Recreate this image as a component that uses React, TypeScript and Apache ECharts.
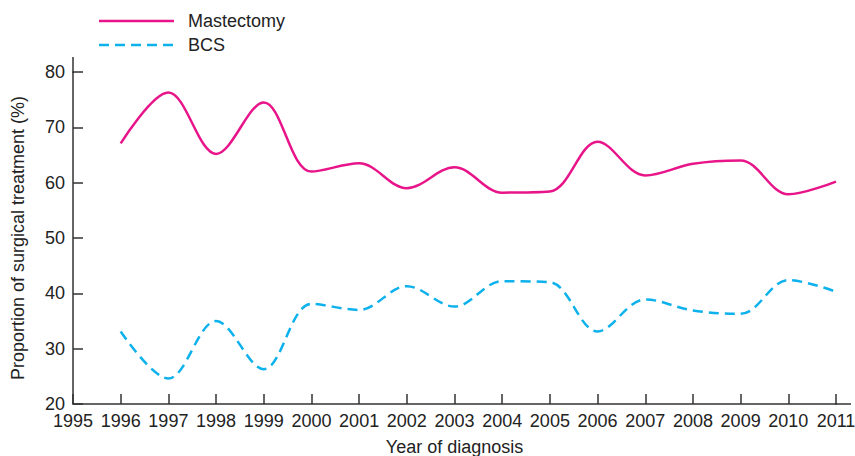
import React, { useEffect, useRef } from "react";
import * as echarts from "echarts";

const years = [1996, 1997, 1998, 1999, 2000, 2001, 2002, 2003, 2004, 2005, 2006, 2007, 2008, 2009, 2010, 2011];
const mastectomy = [67.1, 76.3, 65.2, 74.5, 62.0, 63.5, 59.0, 62.8, 58.2, 58.4, 67.4, 61.3, 63.4, 64.0, 57.9, 60.2];
const bcs = [33.1, 24.6, 35.0, 26.3, 38.1, 37.0, 41.3, 37.6, 42.2, 42.0, 33.1, 38.9, 36.9, 36.3, 42.4, 40.3];
const legendNames = ["Mastectomy", "BCS"];

const FONT = "'Liberation Sans', Arial, Helvetica, sans-serif";
const TXT = "#222";
const AX = "#333";
const PINK = "#E8158A";
const CYAN = "#0DB1EC";

export default function App() {
  const ref = useRef<HTMLDivElement>(null);
  useEffect(() => {
    if (!ref.current) return;
    const chart = echarts.init(ref.current, undefined, { renderer: "svg" });
    const axisCommon = {
      axisLine: { show: true, lineStyle: { color: AX, width: 1.5 } },
      axisTick: { show: true, inside: true, length: 10, lineStyle: { color: AX, width: 1.5 } },
      splitLine: { show: false },
      axisLabel: { color: TXT, fontSize: 18, fontFamily: FONT, formatter: (v: number) => String(v) },
      nameTextStyle: { color: TXT, fontSize: 18, fontFamily: FONT },
    };
    chart.setOption({
      animation: false,
      grid: { left: 73, right: 19, top: 72, bottom: 52, containLabel: false, outerBoundsMode: "none" },
      xAxis: {
        type: "value",
        min: 1995,
        max: 2011,
        interval: 1,
        name: "Year of diagnosis",
        nameLocation: "middle",
        nameGap: 34,
        ...axisCommon,
        axisLabel: { ...axisCommon.axisLabel, margin: 8, lineHeight: 18, showMinLabel: true, showMaxLabel: true },
      },
      yAxis: {
        type: "value",
        min: 20,
        max: 80,
        interval: 10,
        name: "Proportion of surgical treatment (%)",
        nameLocation: "middle",
        nameGap: 46,
        ...axisCommon,
        axisLabel: { ...axisCommon.axisLabel, margin: 8, lineHeight: 18 },
      },
      series: [
        {
          name: legendNames[0],
          type: "line",
          data: years.map((y, i) => [y, mastectomy[i]]),
          smooth: 0.35,
          symbol: "none",
          lineStyle: { color: PINK, width: 2.5 },
          itemStyle: { color: PINK },
        },
        {
          name: legendNames[1],
          type: "line",
          data: years.map((y, i) => [y, bcs[i]]),
          smooth: 0.35,
          symbol: "none",
          lineStyle: { color: CYAN, width: 2.5, type: [10, 6] },
          itemStyle: { color: CYAN },
        },
      ],
      graphic: [
        { type: "line", shape: { x1: 73, y1: 57, x2: 73, y2: 73 }, style: { stroke: AX, lineWidth: 1.5 } },
        { type: "line", shape: { x1: 835, y1: 404, x2: 851, y2: 404 }, style: { stroke: AX, lineWidth: 1.5 } },
        { type: "line", shape: { x1: 99, y1: 21, x2: 174, y2: 21 }, style: { stroke: PINK, lineWidth: 2.5 } },
        { type: "line", shape: { x1: 99, y1: 45, x2: 174, y2: 45 }, style: { stroke: CYAN, lineWidth: 2.5, lineDash: [10, 6] } },
        { type: "text", x: 188, y: 21, style: { text: legendNames[0], fill: TXT, font: `18px ${FONT}`, verticalAlign: "middle" } },
        { type: "text", x: 188, y: 45, style: { text: legendNames[1], fill: TXT, font: `18px ${FONT}`, verticalAlign: "middle" } },
      ],
    });
    return () => chart.dispose();
  }, []);
  return <div ref={ref} style={{ position: "absolute", left: 0, top: 0, width: 855, height: 456 }} />;
}
